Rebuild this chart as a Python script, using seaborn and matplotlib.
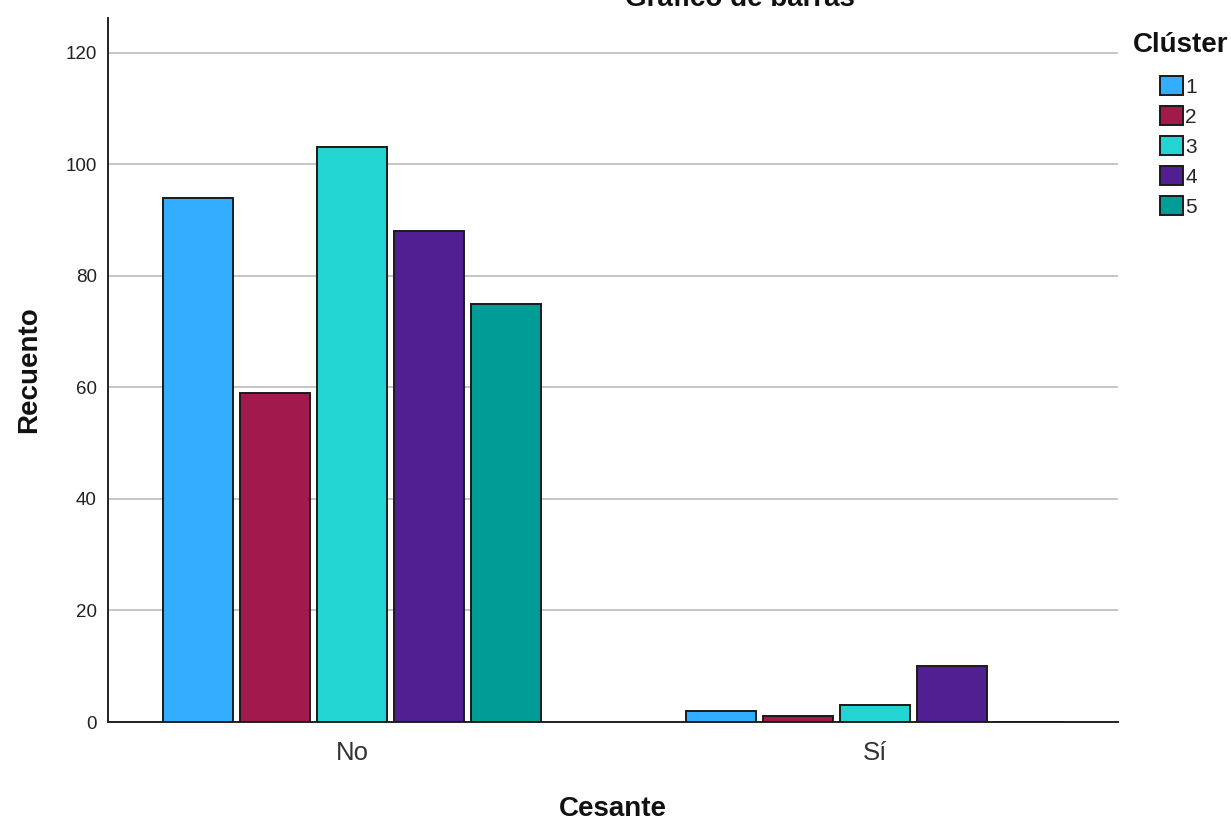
import pandas as pd
import matplotlib
matplotlib.use("Agg")
import matplotlib.pyplot as plt
from matplotlib.patches import Patch
import seaborn as sns

# =========================
# DATOS
# =========================

cesante = ["No", "Sí"]
clusters = ["1", "2", "3", "4", "5"]
recuento_no = [94, 59, 103, 88, 75]
recuento_si = [2, 1, 3, 10, 0]
colores = ["#33adff", "#a11a4b", "#22d5d3", "#521f93", "#009c96"]

base = pd.DataFrame({
    "Cesante": [cesante[0]] * len(clusters) + [cesante[1]] * len(clusters),
    "Clúster": clusters + clusters,
    "Recuento": recuento_no + recuento_si,
})

# =========================
# ESTILO
# =========================

sns.set_theme(style="white")
plt.rcParams["font.family"] = ["Liberation Sans", "DejaVu Sans"]

fig = plt.figure(figsize=(12.31, 8.21), dpi=100)
ax = fig.add_axes([108 / 1231, 1 - 722 / 821, 1010 / 1231, 704 / 821])

sns.barplot(
    data=base, x="Cesante", y="Recuento", hue="Clúster",
    order=cesante, hue_order=clusters, palette=colores,
    width=0.735, gap=0.09, errorbar=None,
    edgecolor="#1a1a1a", linewidth=1.4, saturation=1,
    zorder=3, ax=ax, legend=False,
)

ax.set_xlim(-0.4665, 1.4646)
ax.set_ylim(0, 126.2)
ax.set_yticks(range(0, 121, 20))

ax.yaxis.grid(True, color="#b5b5b5", linewidth=1.1, zorder=0)
ax.xaxis.grid(False)
ax.set_axisbelow(True)

for lado in ["top", "right"]:
    ax.spines[lado].set_visible(False)
for lado in ["left", "bottom"]:
    ax.spines[lado].set_color("#222222")
    ax.spines[lado].set_linewidth(1.4)

ax.tick_params(axis="y", length=0, pad=8, labelsize=13.5, labelcolor="#222222")
ax.tick_params(axis="x", length=0, pad=14, labelsize=18.5, labelcolor="#333333")

ax.set_xlabel("Cesante", fontsize=20, fontweight="bold", labelpad=22, color="#111111")
ax.set_ylabel("Recuento", fontsize=20, fontweight="bold", labelpad=17, color="#111111")

# título cortado arriba, como en el original
fig.text(740 / 1231, 1 - 6 / 821, "Gráfico de barras", ha="center", va="baseline",
         fontsize=20, fontweight="bold", color="#111111")

# =========================
# LEYENDA
# =========================

fig.text(1133 / 1231, 1 - 45 / 821, "Clúster", ha="left", va="center",
         fontsize=20, fontweight="bold", color="#111111")

handles = [Patch(facecolor=c, edgecolor="#1a1a1a", linewidth=1.4, label=k)
           for c, k in zip(colores, clusters)]
fig.legend(
    handles=handles, loc="upper left",
    bbox_to_anchor=(1160 / 1231, 1 - 76 / 821),
    frameon=False, fontsize=15, borderpad=0, borderaxespad=0,
    handlelength=1.1, handleheight=1.06, handletextpad=0.12, labelspacing=0.44,
)

fig.savefig("out.png", dpi=100)
